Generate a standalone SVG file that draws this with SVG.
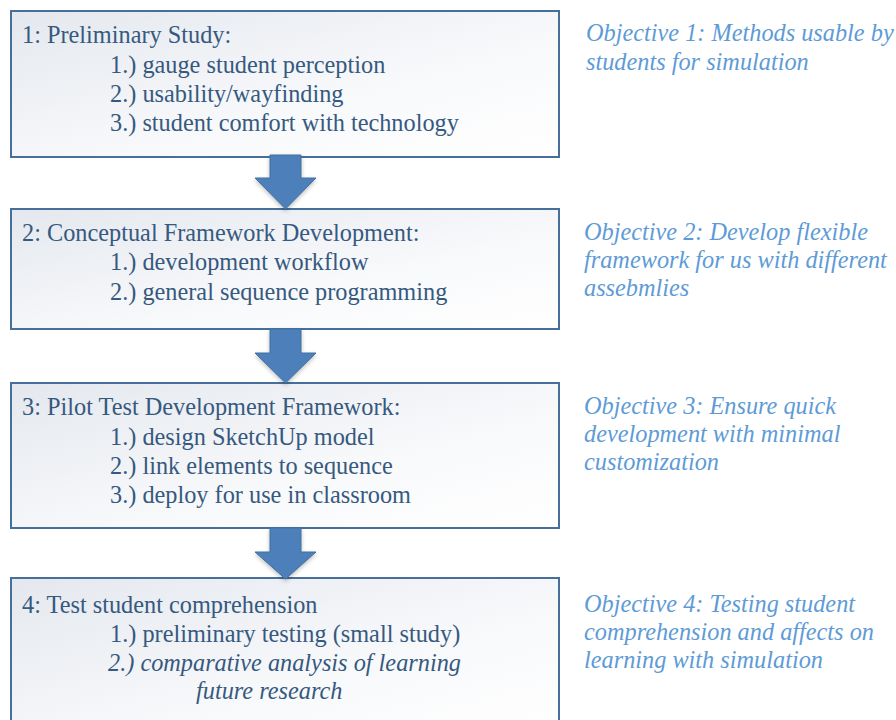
<svg xmlns="http://www.w3.org/2000/svg" width="896" height="720" viewBox="0 0 896 720">
<defs>
<linearGradient id="bg" x1="0" y1="0" x2="1" y2="1">
<stop offset="0" stop-color="#e4e8ee"/>
<stop offset="0.6" stop-color="#f8f9fb"/>
<stop offset="1" stop-color="#ffffff"/>
</linearGradient>
<filter id="sh" x="-20%" y="-20%" width="140%" height="150%">
<feGaussianBlur in="SourceAlpha" stdDeviation="2"/>
<feOffset dx="0" dy="2" result="b"/>
<feComponentTransfer><feFuncA type="linear" slope="0.25"/></feComponentTransfer>
<feMerge><feMergeNode/><feMergeNode in="SourceGraphic"/></feMerge>
</filter>
</defs>
<style>
.box{fill:url(#bg);stroke:#46709a;stroke-width:2}
.t{font-family:"Liberation Serif","Times New Roman",serif;font-size:24.3px;fill:#36597f}
.i{font-style:italic}
.obj{font-family:"Liberation Serif","Times New Roman",serif;font-size:24.3px;font-style:italic;fill:#5e9bd6}
.arr{fill:#4d80bb;stroke:#41709f;stroke-width:1}
</style>
<rect width="896" height="720" fill="#ffffff"/>
<g id="node1">
<rect class="box" x="11" y="11" width="548" height="146"/>
<text class="t" x="22" y="43">1: Preliminary Study:</text>
<text class="t" x="110" y="73">1.) gauge student perception</text>
<text class="t" x="110" y="102">2.) usability/wayfinding</text>
<text class="t" x="110" y="131">3.) student comfort with technology</text>
</g>
<g id="node2">
<rect class="box" x="11" y="209" width="548" height="120"/>
<text class="t" x="22" y="241">2: Conceptual Framework Development:</text>
<text class="t" x="110" y="270">1.) development workflow</text>
<text class="t" x="110" y="300">2.) general sequence programming</text>
</g>
<g id="node3">
<rect class="box" x="11" y="383" width="548" height="145"/>
<text class="t" x="22" y="415">3: Pilot Test Development Framework:</text>
<text class="t" x="110" y="445">1.) design SketchUp model</text>
<text class="t" x="110" y="474">2.) link elements to sequence</text>
<text class="t" x="110" y="503">3.) deploy for use in classroom</text>
</g>
<g id="node4">
<rect class="box" x="11" y="578" width="548" height="160"/>
<text class="t" x="22" y="613">4: Test student comprehension</text>
<text class="t" x="110" y="642">1.) preliminary testing (small study)</text>
<text class="t i" x="108" y="671">2.) comparative analysis of learning</text>
<text class="t i" x="196" y="699">future research</text>
</g>
<g id="obj1">
<text class="obj" x="586" y="41">Objective 1: Methods usable by</text>
<text class="obj" x="586" y="70">students for simulation</text>
</g>
<g id="obj2">
<text class="obj" x="584" y="240">Objective 2: Develop flexible</text>
<text class="obj" x="584" y="268">framework for us with different</text>
<text class="obj" x="584" y="296">assebmlies</text>
</g>
<g id="obj3">
<text class="obj" x="584" y="414">Objective 3: Ensure quick</text>
<text class="obj" x="584" y="442">development with minimal</text>
<text class="obj" x="584" y="470">customization</text>
</g>
<g id="obj4">
<text class="obj" x="584" y="612">Objective 4: Testing student</text>
<text class="obj" x="584" y="640">comprehension and affects on</text>
<text class="obj" x="584" y="668">learning with simulation</text>
</g>
<g id="connectors" filter="url(#sh)">
<polygon class="arr" points="270,155 301,155 301,178 316,178 285.5,209 255,178 270,178"/>
<polygon class="arr" points="270,329 301,329 301,353 316,353 285.5,383 255,353 270,353"/>
<polygon class="arr" points="270,528 301,528 301,552 316,552 285.5,579 255,552 270,552"/>
</g>
</svg>
